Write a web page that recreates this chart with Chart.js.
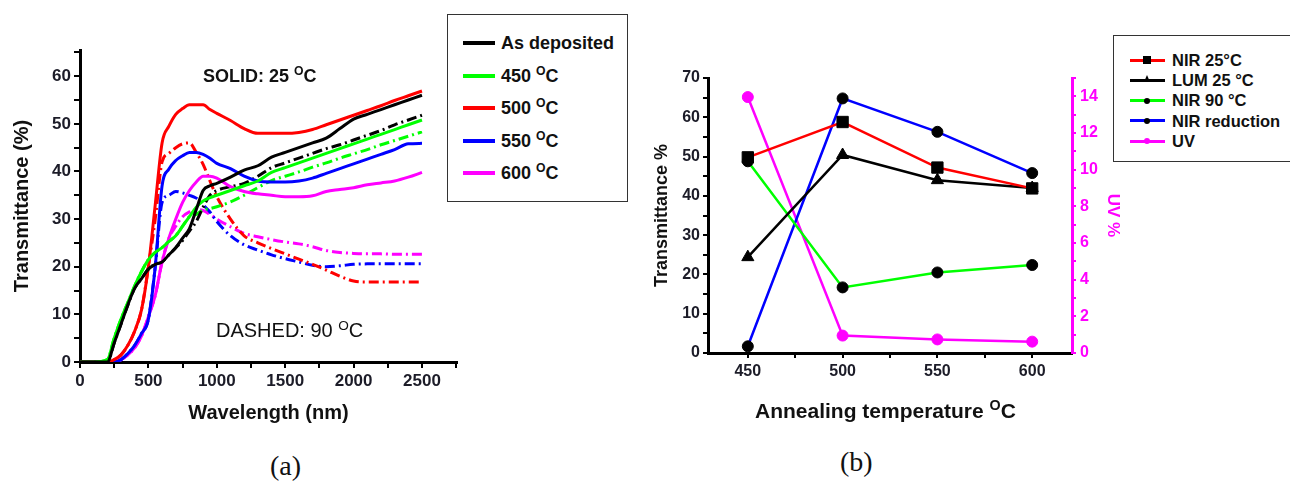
<!DOCTYPE html>
<html>
<head>
<meta charset="utf-8">
<script src="https://cdn.jsdelivr.net/npm/chart.js@4.4.0/dist/chart.umd.min.js"></script>
<style>
  body { margin: 0; width: 1290px; height: 484px; position: relative; overflow: hidden; background: #fff;
         font-family: "Liberation Sans", Arial, sans-serif; color: #111; }
  canvas { position: absolute; }
  #chartA { left: 0; top: 0; }
  #chartB { left: 640px; top: 0; }
  .txt { position: absolute; white-space: nowrap; line-height: 1; }
  .txt sup { font-size: 0.68em; vertical-align: 0.55em; line-height: 0; }
  .box { position: absolute; border: 1.5px solid #333; background: #fff; }
  .row { position: absolute; left: 0; height: 0; }
  .row .ln { position: absolute; }
  .row .lbl { position: absolute; white-space: nowrap; line-height: 1; font-weight: bold; }
  .row .lbl sup { font-size: 0.68em; vertical-align: 0.55em; line-height: 0; }
  .mk { position: absolute; }
</style>
</head>
<body>
<canvas id="chartA" width="460" height="430"></canvas>
<canvas id="chartB" width="490" height="430"></canvas>

<div class="txt" style="left:203px; top:67px; font-size:18px; font-weight:bold;">SOLID: 25 <sup>O</sup>C</div>
<div class="txt" style="left:216px; top:320px; font-size:20px;">DASHED: 90 <sup>O</sup>C</div>
<div class="txt" style="left:755px; top:400px; font-size:21px; font-weight:bold;">Annealing temperature <sup>O</sup>C</div>
<div class="txt" style="left:270px; top:452px; font-size:28px; font-family:'Liberation Serif', serif;">(a)</div>
<div class="txt" style="left:840px; top:448px; font-size:28px; font-family:'Liberation Serif', serif;">(b)</div>

<div class="box" id="legendA" style="left:447px; top:14px; width:179px; height:186px;"></div>
<div class="box" id="legendB" style="left:1113px; top:35px; width:200px; height:125px;"></div>

<script>
'use strict'

// ---- (a) spectra, transmittance % vs wavelength nm ----
let wavelengths = [0, 100, 200, 250, 300, 350, 400, 450, 500, 550, 600, 650, 700, 750, 800, 850, 900, 950,
  1000, 1100, 1200, 1300, 1400, 1500, 1600, 1700, 1800, 1900, 2000, 2100, 2200, 2300, 2400, 2500];

// solid: measured at 25 C
let asDep25 = [0, 0, 0, 4, 8, 12, 15.5, 17.5, 19.5, 20.5, 21, 22.5, 24, 26, 28, 32, 36, 37,
  37.5, 38.8, 40.3, 41.2, 43, 44, 45, 46, 47, 49, 51, 52, 53, 54, 55, 56];
let t450_25 = [0, 0, 0.5, 5, 9, 12.5, 16, 19, 21.5, 23, 24, 25.3, 26.5, 28.5, 30.5, 32.5, 33.8, 34.5,
  35, 36, 37, 38, 39.8, 40.8, 41.8, 42.8, 43.8, 44.8, 45.8, 46.8, 47.8, 48.8, 49.8, 50.8];
let t500_25 = [0, 0, 0, 0.5, 1.5, 3.5, 6.5, 11, 20, 33, 46, 49.5, 52, 53.2, 54, 54, 54, 53,
  52.2, 50.7, 49, 48, 48, 48, 48.2, 48.8, 49.8, 50.8, 51.8, 52.8, 53.8, 54.9, 55.9, 56.9];
let t550_25 = [0, 0, 0, 0, 0.5, 1.8, 3.5, 6, 9, 20, 37, 40.5, 42.3, 43.3, 44, 44, 43.6, 42.8,
  41.7, 40.6, 39, 38, 37.8, 37.8, 38, 38.6, 39.6, 40.6, 41.6, 42.6, 43.6, 44.6, 45.8, 45.9];
let t600_25 = [0, 0, 0, 0, 0.5, 1.5, 3, 5.5, 9.5, 14, 21, 26, 30, 33.5, 36, 37.8, 39, 39,
  38.6, 36.8, 35.8, 35.3, 35, 34.7, 34.7, 34.9, 35.8, 36.2, 36.6, 37.2, 37.6, 38, 38.8, 39.8];

// dashed: measured at 90 C
let asDep90 = [0, 0, 0, 4, 8, 12, 15.5, 17.5, 19.5, 20.5, 21, 22.5, 24, 25.5, 27.5, 29.5, 32.5, 35,
  36, 36.8, 37.5, 39, 40.8, 41.8, 42.8, 43.8, 44.8, 45.6, 46.6, 47.6, 48.6, 49.8, 50.8, 51.8];
let t450_90 = [0, 0, 0.5, 5, 9, 12.5, 16, 19, 21.5, 23, 24, 25.3, 26.5, 28.5, 30.5, 31, 31.9, 32.2,
  32.6, 33.6, 35, 36.6, 38.1, 39, 39.9, 40.9, 41.8, 42.8, 43.7, 44.6, 45.6, 46.5, 47.4, 48.3];
let t500_90 = [0, 0, 0, 0.5, 1.5, 3.5, 6.5, 11, 20, 30, 42, 43.8, 45, 45.8, 46, 44, 41.5, 38,
  34.7, 30, 26.5, 25, 23.8, 22.7, 21.6, 20.5, 19.3, 18, 17, 16.8, 16.8, 16.8, 16.8, 16.8];
let t550_90 = [0, 0, 0, 0, 0.5, 1.8, 3.5, 6, 9, 20, 33.5, 35, 35.8, 35.5, 35, 34.4, 33, 31.5,
  29.5, 26.5, 24.6, 23.5, 22.5, 21.7, 21, 20.3, 20, 20.2, 20.5, 20.6, 20.6, 20.6, 20.6, 20.6];
let t600_90 = [0, 0, 0, 0, 0.5, 1.5, 3, 5.5, 9.5, 14, 21, 26, 28.5, 30.5, 31.5, 32, 31.8, 31,
  30, 28.4, 27, 26.3, 25.7, 25.2, 24.8, 24.2, 23.4, 23, 22.8, 22.7, 22.7, 22.6, 22.6, 22.6];

let seriesNamesA = ['As deposited', '450', '500', '550', '600'];
let seriesColorsA = ['#000000', '#00ff00', '#ff0000', '#0000ff', '#ff00ff'];
let solidA = [asDep25, t450_25, t500_25, t550_25, t600_25];
let dashedA = [asDep90, t450_90, t500_90, t550_90, t600_90];

let xTicksA = [0, 500, 1000, 1500, 2000, 2500];
let xMinorA = [250, 750, 1250, 1750, 2250, 2750];
let yTicksA = [0, 10, 20, 30, 40, 50, 60];
let yMinorA = [5, 15, 25, 35, 45, 55, 65];

// ---- (b) values vs annealing temperature ----
let temps = [450, 500, 550, 600];
let nir25 = [49.8, 58.8, 47.2, 41.9];
let lum25 = [24.4, 50.4, 44, 42];
let nir90 = [48.8, 16.7, 20.5, 22.4];
let nirReduction = [1.7, 64.8, 56.3, 45.8];
let uv = [13.96, 0.95, 0.74, 0.62];

let namesB = ['NIR 25°C', 'LUM 25 °C', 'NIR 90 °C', 'NIR reduction', 'UV'];
let lineColorsB = ['#ff0000', '#000000', '#00ff00', '#0000ff', '#ff00ff'];
let markersB = ['rect', 'triangle', 'circle', 'circle', 'circle'];
let markerColorsB = ['#000000', '#000000', '#000000', '#000000', '#ff00ff'];

let xMinorB = [475, 525, 575];
let yTicksB = [0, 10, 20, 30, 40, 50, 60, 70];
let yMinorB = [5, 15, 25, 35, 45, 55, 65];
let uvTicks = [0, 2, 4, 6, 8, 10, 12, 14];
let uvMinor = [1, 3, 5, 7, 9, 11, 13, 15];

Chart.defaults.font.family = '"Liberation Sans", Arial, sans-serif';
Chart.defaults.color = '#1c1c28';

function toPoints(xs, ys) {
  return xs.map((x, i) => ({ x: x, y: ys[i] }));
}

function setTicks(major, minor) {
  return s => {
    s.ticks = major.concat(minor).sort((a, b) => a - b).map(v => ({ value: v }));
  };
}

// chart (a)
let dsA = [];
for (let i = 0; i < solidA.length; i++) {
  dsA.push({
    data: toPoints(wavelengths, solidA[i]),
    borderColor: seriesColorsA[i],
    borderWidth: 3,
    pointRadius: 0,
    cubicInterpolationMode: 'monotone',
  });
}
for (let i = 0; i < dashedA.length; i++) {
  dsA.push({
    data: toPoints(wavelengths, dashedA[i]),
    borderColor: seriesColorsA[i],
    borderWidth: 3,
    borderDash: [10, 4, 2, 4],
    pointRadius: 0,
    cubicInterpolationMode: 'monotone',
  });
}

let tickFontA = { size: 17, weight: 'bold' };

let chartA = new Chart(document.getElementById('chartA').getContext('2d'), {
  type: 'line',
  data: { datasets: dsA },
  options: {
    responsive: false,
    animation: false,
    layout: { padding: { top: 50, right: 3, left: 0, bottom: 0 } },
    plugins: { legend: { display: false }, tooltip: { enabled: false } },
    scales: {
      x: {
        type: 'linear', min: 0, max: 2756,
        border: { display: true, color: '#000', width: 3 },
        grid: { drawOnChartArea: false, drawTicks: true, tickLength: 6, color: '#000', lineWidth: 2 },
        afterBuildTicks: setTicks(xTicksA, xMinorA),
        ticks: {
          autoSkip: false, maxRotation: 0, padding: 3, font: tickFontA,
          callback: v => xTicksA.includes(v) ? v : '',
        },
        title: { display: true, text: 'Wavelength (nm)', color: '#111', font: { size: 20, weight: 'bold' }, padding: { top: 0, bottom: 5 } },
        afterFit: s => { s.height = 68; },
      },
      y: {
        type: 'linear', min: 0, max: 65.5,
        border: { display: true, color: '#000', width: 3 },
        grid: { drawOnChartArea: false, drawTicks: true, tickLength: 6, color: '#000', lineWidth: 2 },
        afterBuildTicks: setTicks(yTicksA, yMinorA),
        ticks: {
          autoSkip: false, padding: 3, font: tickFontA,
          callback: v => yTicksA.includes(v) ? v : '',
        },
        title: { display: true, text: 'Transmittance (%)', color: '#111', font: { size: 20, weight: 'bold' }, padding: { top: 10, bottom: 0 } },
        afterFit: s => { s.width = 80; },
      },
    },
  },
});

// chart (b)
let seriesB = [nir25, lum25, nir90, nirReduction, uv];
let dsB = seriesB.map((vals, i) => ({
  data: toPoints(temps, vals),
  yAxisID: i === 4 ? 'y2' : 'y',
  borderColor: lineColorsB[i],
  borderWidth: 2.5,
  pointStyle: markersB[i],
  pointRadius: markersB[i] === 'rect' ? 8 : (markersB[i] === 'triangle' ? 7 : 5.5),
  pointBackgroundColor: markerColorsB[i],
  pointBorderColor: markerColorsB[i],
  pointBorderWidth: 1,
  tension: 0,
}));

let tickFontB = { size: 16, weight: 'bold' };

let chartB = new Chart(document.getElementById('chartB').getContext('2d'), {
  type: 'line',
  data: { datasets: dsB },
  options: {
    responsive: false,
    animation: false,
    clip: false,
    layout: { padding: { top: 78, right: 0, left: 0, bottom: 0 } },
    plugins: { legend: { display: false }, tooltip: { enabled: false } },
    scales: {
      x: {
        type: 'linear', min: 429, max: 621,
        border: { display: true, color: '#000', width: 3 },
        grid: { drawOnChartArea: false, drawTicks: true, tickLength: 5, color: '#000', lineWidth: 2 },
        afterBuildTicks: setTicks(temps, xMinorB),
        ticks: {
          autoSkip: false, maxRotation: 0, padding: 4, font: tickFontB,
          callback: v => temps.includes(v) ? v : '',
        },
        afterFit: s => { s.height = 77; },
      },
      y: {
        type: 'linear', position: 'left', min: 0, max: 70,
        border: { display: true, color: '#000', width: 3 },
        grid: { drawOnChartArea: false, drawTicks: true, tickLength: 5, color: '#000', lineWidth: 2 },
        afterBuildTicks: setTicks(yTicksB, yMinorB),
        ticks: {
          autoSkip: false, padding: 3, font: tickFontB,
          callback: v => yTicksB.includes(v) ? v : '',
        },
        title: { display: true, text: 'Transmittance %', color: '#111', font: { size: 18, weight: 'bold' }, padding: { top: 11, bottom: 0 } },
        afterFit: s => { s.width = 68; },
      },
      y2: {
        type: 'linear', position: 'right', min: 0, max: 15,
        border: { display: true, color: '#ff00ff', width: 3 },
        grid: { drawOnChartArea: false, drawTicks: true, tickLength: 4, color: '#ff00ff', lineWidth: 2 },
        afterBuildTicks: setTicks(uvTicks, uvMinor),
        ticks: {
          autoSkip: false, padding: 4, color: '#ff00ff', font: tickFontB,
          callback: v => uvTicks.includes(v) ? v : '',
        },
        title: { display: true, text: 'UV %', color: '#ff00ff', font: { size: 17, weight: 'bold' }, padding: { top: 7, bottom: 0 } },
        afterFit: s => { s.width = 58; },
      },
    },
  },
});

// legends (html, so the superscripts stay real text)
function addLabel(row, text, sup, size, left) {
  let lbl = document.createElement('div');
  lbl.className = 'lbl';
  lbl.style.fontSize = size + 'px';
  lbl.style.left = left + 'px';
  lbl.style.top = (-size * 0.5) + 'px';
  lbl.appendChild(document.createTextNode(text));
  if (sup) {
    let s = document.createElement('sup');
    s.textContent = 'O';
    lbl.appendChild(s);
    lbl.appendChild(document.createTextNode('C'));
  }
  row.appendChild(lbl);
}

let legendA = document.getElementById('legendA');
seriesNamesA.forEach((name, i) => {
  let row = document.createElement('div');
  row.className = 'row';
  row.style.top = (28 + i * 32.5) + 'px';
  let ln = document.createElement('div');
  ln.className = 'ln';
  ln.style.cssText = 'left:15px; top:-2px; width:32px; height:4px; background:' + seriesColorsA[i];
  row.appendChild(ln);
  addLabel(row, i === 0 ? name : name + ' ', i !== 0, 18, 53);
  legendA.appendChild(row);
});

let legendB = document.getElementById('legendB');
namesB.forEach((name, i) => {
  let row = document.createElement('div');
  row.className = 'row';
  row.style.top = (24 + i * 20.25) + 'px';
  let ln = document.createElement('div');
  ln.className = 'ln';
  ln.style.cssText = 'left:16px; top:-1.5px; width:35px; height:3px; background:' + lineColorsB[i];
  row.appendChild(ln);
  let mk = document.createElement('div');
  mk.className = 'mk';
  if (markersB[i] === 'rect') {
    mk.style.cssText = 'left:29px; top:-4px; width:8px; height:8px; background:' + markerColorsB[i];
  } else if (markersB[i] === 'triangle') {
    mk.style.cssText = 'left:29.5px; top:-5px; width:0; height:0; border-left:3.5px solid transparent; border-right:3.5px solid transparent; border-bottom:7px solid ' + markerColorsB[i];
  } else {
    mk.style.cssText = 'left:30px; top:-3px; width:6px; height:6px; border-radius:50%; background:' + markerColorsB[i];
  }
  row.appendChild(mk);
  addLabel(row, name, false, 16.5, 58);
  legendB.appendChild(row);
});
</script>
</body>
</html>
